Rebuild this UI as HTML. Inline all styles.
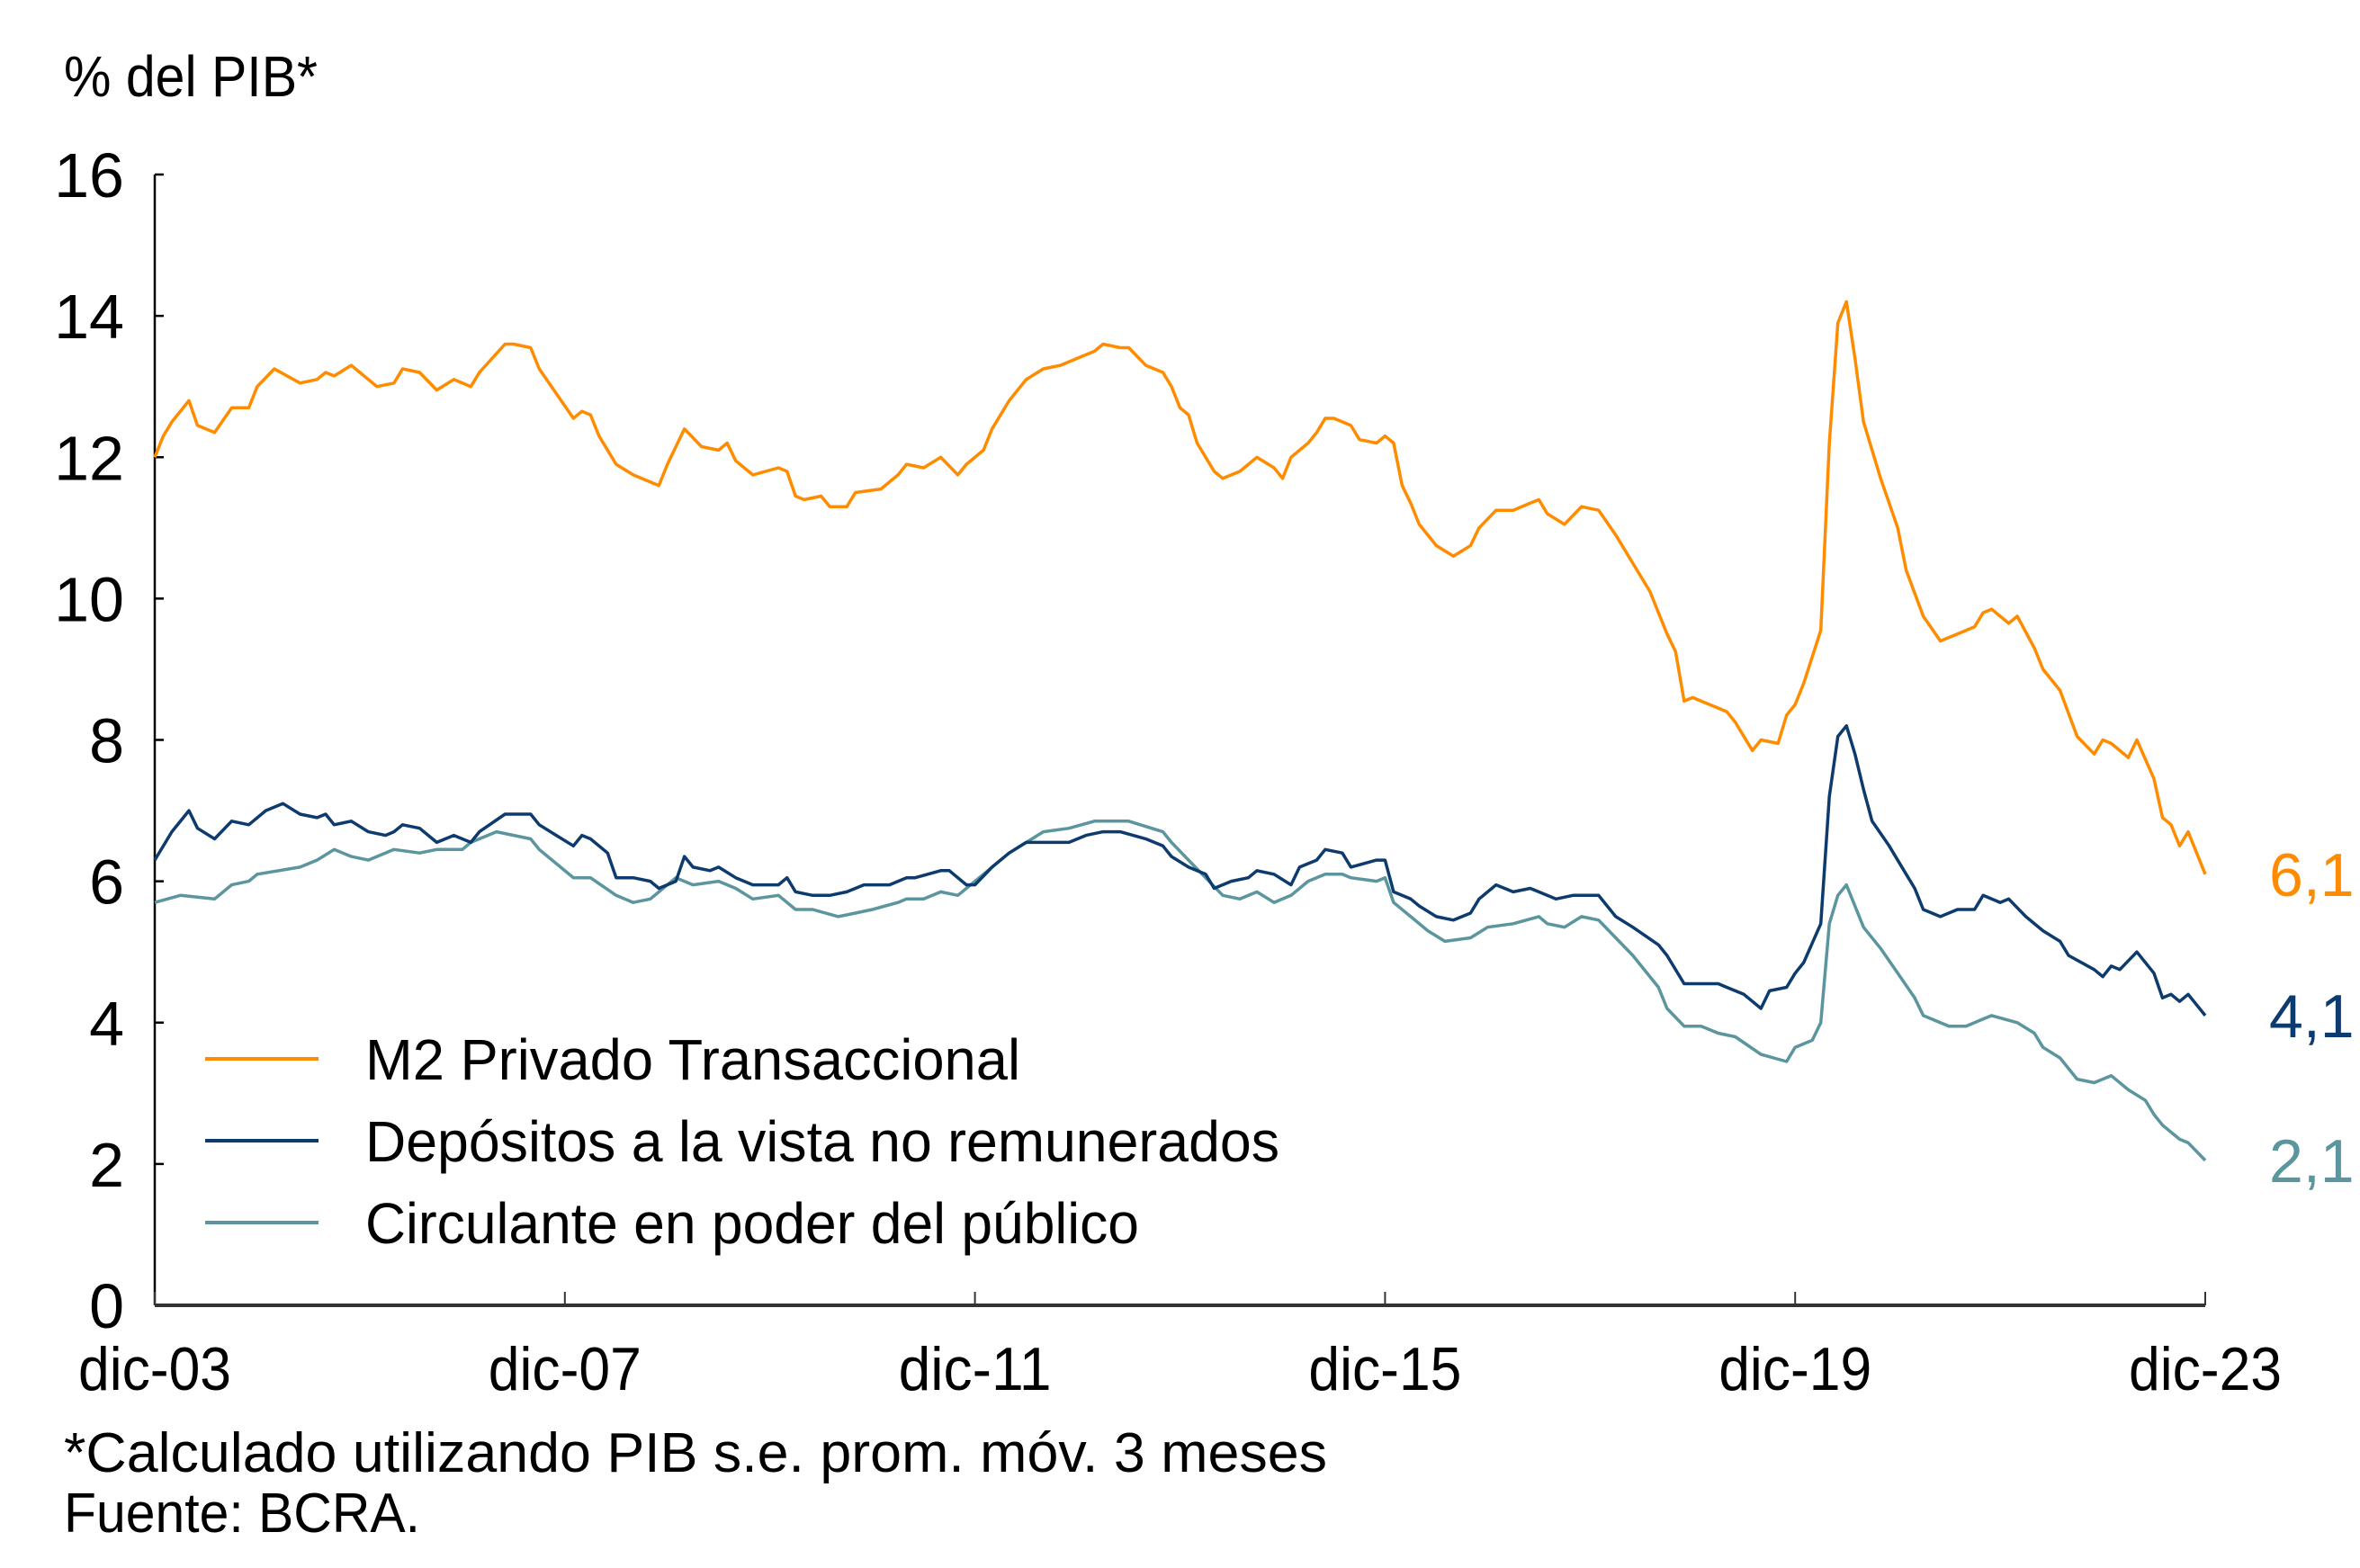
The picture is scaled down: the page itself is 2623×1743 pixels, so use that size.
<!DOCTYPE html>
<html><head><meta charset="utf-8"><style>
html,body{margin:0;padding:0;background:#fff;}
svg{display:block;font-family:"Liberation Sans",sans-serif;}
</style></head><body>
<svg id="chart" width="2623" height="1743" viewBox="0 0 2623 1743" xmlns="http://www.w3.org/2000/svg">
<text x="71" y="107" font-size="64" textLength="282" lengthAdjust="spacingAndGlyphs">% del PIB*</text>
<g id="axes"></g>
<g id="series"></g>
<g id="legend">
 <line x1="228" x2="354" y1="1177" y2="1177" stroke="#FF8C00" stroke-width="4"/>
 <text x="406" y="1200" font-size="64" textLength="728" lengthAdjust="spacingAndGlyphs">M2 Privado Transaccional</text>
 <line x1="228" x2="354" y1="1268" y2="1268" stroke="#0D3B6E" stroke-width="4"/>
 <text x="406" y="1291" font-size="64" textLength="1016" lengthAdjust="spacingAndGlyphs">Depósitos a la vista no remunerados</text>
 <line x1="228" x2="354" y1="1359" y2="1359" stroke="#5B959E" stroke-width="4"/>
 <text x="406" y="1382" font-size="64" textLength="860" lengthAdjust="spacingAndGlyphs">Circulante en poder del público</text>
</g>
<text x="71" y="1636" font-size="62" textLength="1404" lengthAdjust="spacingAndGlyphs">*Calculado utilizando PIB s.e. prom. móv. 3 meses</text>
<text x="71" y="1703" font-size="62" textLength="396" lengthAdjust="spacingAndGlyphs">Fuente: BCRA.</text>
</svg>
<script>
const xTickLabels=["dic-03","dic-07","dic-11","dic-15","dic-19","dic-23"];
const xTickMonths=[0,48,96,144,192,240];
const yTicks=[0,2,4,6,8,10,12,14,16];
const m2Months=[0,1,2,4,5,7,9,11,12,14,17,19,20,21,23,26,28,29,31,33,35,37,38,41,42,44,45,47,49,50,51,52,54,56,59,60,62,64,66,67,68,70,73,74,75,76,78,79,81,82,85,87,88,90,92,94,95,97,98,100,102,104,106,108,110,111,113,114,116,118,119,120,121,122,124,125,127,129,131,132,133,135,136,137,138,140,141,143,144,145,146,147,148,150,152,154,155,157,159,161,162,163,165,167,169,171,173,175,177,178,179,180,182,184,185,187,188,190,191,192,193,195,196,197,198,199,200,201,202,204,205,207,209,211,213,214,215,217,218,220,221,223,225,227,228,229,231,232,234,235,236,237,238,240];
const m2Values=[12.0,12.3,12.5,12.8,12.45,12.35,12.7,12.7,13.0,13.25,13.05,13.1,13.2,13.15,13.3,13.0,13.05,13.25,13.2,12.95,13.1,13.0,13.2,13.6,13.6,13.55,13.25,12.9,12.55,12.65,12.6,12.3,11.9,11.75,11.6,11.9,12.4,12.15,12.1,12.2,11.95,11.75,11.85,11.8,11.45,11.4,11.45,11.3,11.3,11.5,11.55,11.75,11.9,11.85,12.0,11.75,11.9,12.1,12.4,12.8,13.1,13.25,13.3,13.4,13.5,13.6,13.55,13.55,13.3,13.2,13.0,12.7,12.6,12.2,11.8,11.7,11.8,12.0,11.85,11.7,12.0,12.2,12.35,12.55,12.55,12.45,12.25,12.2,12.3,12.2,11.6,11.35,11.05,10.75,10.6,10.75,11.0,11.25,11.25,11.35,11.4,11.2,11.05,11.3,11.25,10.9,10.5,10.1,9.5,9.25,8.55,8.6,8.5,8.4,8.25,7.85,8.0,7.95,8.35,8.5,8.8,9.55,12.2,13.9,14.2,13.4,12.5,12.1,11.7,11.0,10.4,9.75,9.4,9.5,9.6,9.8,9.85,9.65,9.75,9.3,9.0,8.7,8.05,7.8,8.0,7.95,7.75,8.0,7.45,6.9,6.8,6.5,6.7,6.1];
const depMonths=[0,2,4,5,7,9,11,13,15,17,19,20,21,23,25,27,28,29,31,33,35,37,38,41,44,45,47,49,50,51,53,54,56,58,59,61,62,63,65,66,68,70,73,74,75,77,79,81,83,86,88,89,92,93,95,96,98,100,102,105,107,109,111,113,116,118,119,121,123,124,126,128,129,131,133,134,136,137,139,140,143,144,145,147,148,150,152,154,155,157,159,161,162,164,166,169,171,173,176,177,179,181,183,184,186,188,189,191,192,193,195,196,197,198,199,200,201,203,205,206,207,209,211,213,214,216,217,219,221,223,224,227,228,229,230,232,234,235,236,237,238,240];
const depValues=[6.3,6.7,7.0,6.75,6.6,6.85,6.8,7.0,7.1,6.95,6.9,6.95,6.8,6.85,6.7,6.65,6.7,6.8,6.75,6.55,6.65,6.55,6.7,6.95,6.95,6.8,6.65,6.5,6.65,6.6,6.4,6.05,6.05,6.0,5.9,6.0,6.35,6.2,6.15,6.2,6.05,5.95,5.95,6.05,5.85,5.8,5.8,5.85,5.95,5.95,6.05,6.05,6.15,6.15,5.95,5.95,6.2,6.4,6.55,6.55,6.55,6.65,6.7,6.7,6.6,6.5,6.35,6.2,6.1,5.9,6.0,6.05,6.15,6.1,5.95,6.2,6.3,6.45,6.4,6.2,6.3,6.3,5.85,5.75,5.65,5.5,5.45,5.55,5.75,5.95,5.85,5.9,5.85,5.75,5.8,5.8,5.5,5.35,5.1,4.95,4.55,4.55,4.55,4.5,4.4,4.2,4.45,4.5,4.7,4.85,5.4,7.2,8.05,8.2,7.8,7.3,6.85,6.5,6.1,5.9,5.6,5.5,5.6,5.6,5.8,5.7,5.75,5.5,5.3,5.15,4.95,4.75,4.65,4.8,4.75,5.0,4.7,4.35,4.4,4.3,4.4,4.1];
const cirMonths=[0,3,7,9,11,12,17,19,21,23,25,28,31,33,36,37,40,44,45,47,49,51,54,56,58,61,63,66,68,70,73,75,77,80,82,84,87,88,90,92,94,95,97,100,102,104,107,110,111,114,118,119,121,123,125,127,129,131,133,135,137,139,140,143,144,145,147,149,151,154,156,159,162,163,165,167,169,171,173,176,177,179,181,183,185,188,191,192,194,195,196,197,198,199,200,202,204,206,207,210,212,214,215,218,220,221,223,225,227,229,231,233,234,235,237,238,240];
const cirValues=[5.7,5.8,5.75,5.95,6.0,6.1,6.2,6.3,6.45,6.35,6.3,6.45,6.4,6.45,6.45,6.55,6.7,6.6,6.45,6.25,6.05,6.05,5.8,5.7,5.75,6.05,5.95,6.0,5.9,5.75,5.8,5.6,5.6,5.5,5.55,5.6,5.7,5.75,5.75,5.85,5.8,5.9,6.1,6.4,6.55,6.7,6.75,6.85,6.85,6.85,6.7,6.55,6.3,6.05,5.8,5.75,5.85,5.7,5.8,6.0,6.1,6.1,6.05,6.0,6.05,5.7,5.5,5.3,5.15,5.2,5.35,5.4,5.5,5.4,5.35,5.5,5.45,5.2,4.95,4.5,4.2,3.95,3.95,3.85,3.8,3.55,3.45,3.65,3.75,4.0,5.4,5.8,5.95,5.65,5.35,5.05,4.7,4.35,4.1,3.95,3.95,4.05,4.1,4.0,3.85,3.65,3.5,3.2,3.15,3.25,3.05,2.9,2.7,2.55,2.35,2.3,2.05];
const endLabels=["6,1","4,1","2,1"];

const NS="http://www.w3.org/2000/svg";
const X0=172,X1=2451,Y0=1451,Y16=194;
const xScale=m=>X0+(X1-X0)*m/240;
const yScale=v=>Y0-(Y0-Y16)*v/16;
function mk(tag,attrs,parent){const e=document.createElementNS(NS,tag);for(const k in attrs)e.setAttribute(k,attrs[k]);parent.appendChild(e);return e;}
const axes=document.getElementById('axes');
let yl=mk('line',{x1:X0,x2:X0,y1:Y16,y2:Y0,stroke:'#000','stroke-width':2.5},axes);


yTicks.forEach(v=>{
 const t=mk('line',{x1:X0,x2:X0+10,y1:yScale(v),y2:yScale(v),stroke:'#000','stroke-width':2.5},axes);
 
 
 const l=mk('text',{x:138,y:yScale(v)+25,'font-size':70,'text-anchor':'end'},axes);
 l.textContent=v;
 
 
});
let xl=mk('line',{x1:X0,x2:X1,y1:Y0,y2:Y0,stroke:'#333','stroke-width':4},axes);


xTickMonths.forEach((m,i)=>{
 const t=mk('line',{x1:xScale(m),x2:xScale(m),y1:Y0,y2:Y0-15,stroke:'#333','stroke-width':2},axes);
 
 
 const l=mk('text',{x:xScale(m),y:1545,'font-size':68,'text-anchor':'middle',textLength:170,lengthAdjust:'spacingAndGlyphs'},axes);
 l.textContent=xTickLabels[i];
 
 
});
const ser=document.getElementById('series');
function draw(ms,vs,color,name){
 const d=ms.map((m,i)=>(i?'L':'M')+xScale(m).toFixed(1)+' '+yScale(vs[i]).toFixed(1)).join(' ');
 const p=mk('path',{d:d,fill:'none',stroke:color,'stroke-width':3.5,'stroke-linejoin':'round'},ser);
 
 
}
draw(cirMonths,cirValues,'#5B959E','line-circulante');
draw(depMonths,depValues,'#0D3B6E','line-depositos');
draw(m2Months,m2Values,'#FF8C00','line-m2');
const endColors=['#FF8C00','#0D3B6E','#5B959E'];
const endVals=[m2Values[m2Values.length-1],depValues[depValues.length-1],cirValues[cirValues.length-1]];
endLabels.forEach((s,i)=>{
 const l=mk('text',{x:2522,y:yScale(endVals[i])+24,'font-size':68,fill:endColors[i]},ser);
 l.textContent=s;
 
 
});
</script>
</body></html>
